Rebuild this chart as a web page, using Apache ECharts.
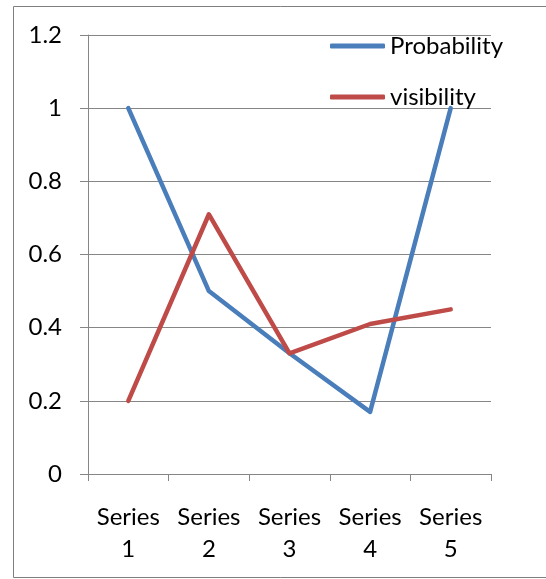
<!DOCTYPE html>
<html>
<head>
<meta charset="utf-8">
<script src="https://cdn.jsdelivr.net/npm/echarts@6/dist/echarts.min.js"></script>
<style>
  html, body { margin: 0; padding: 0; background: #ffffff; }
  #chart { width: 546px; height: 579px; }
</style>
</head>
<body>
<div id="chart"></div>
<script>
// Category labels along the x axis
const categories = ['Series\n1', 'Series\n2', 'Series\n3', 'Series\n4', 'Series\n5'];
// Series values
const probability = [1, 0.5, 0.33, 0.17, 1];
const visibility = [0.2, 0.71, 0.33, 0.41, 0.45];
// Value axis range
const yMin = 0;
const yMax = 1.2;
const yStep = 0.2;

const gridColor = '#868686';
const fontFamily = 'Lato, "Open Sans", sans-serif';

const chart = echarts.init(document.getElementById('chart'), null, { renderer: 'canvas' });

chart.setOption({
  animation: false,
  backgroundColor: '#ffffff',
  graphic: [{
    type: 'rect',
    shape: { x: 13.5, y: 6.5, width: 600, height: 571 },
    style: { fill: 'none', stroke: '#7f7f7f', lineWidth: 1 },
    silent: true,
    z: -1
  }],
  grid: { left: 88, right: 55, top: 35, bottom: 105, containLabel: false },
  legend: {
    orient: 'vertical',
    left: 330,
    top: 33,
    padding: 0,
    itemWidth: 55,
    itemHeight: 5,
    itemGap: 25,
    icon: 'roundRect',
    textStyle: { fontFamily: fontFamily, fontSize: 24, color: '#000000', lineHeight: 26 },
    data: ['Probability', 'visibility']
  },
  xAxis: {
    type: 'category',
    data: categories,
    boundaryGap: true,
    axisLine: { lineStyle: { color: gridColor, width: 1 } },
    axisTick: { show: true, length: 7, alignWithLabel: false, lineStyle: { color: gridColor } },
    axisLabel: {
      interval: 0,
      margin: 27,
      fontFamily: fontFamily,
      fontSize: 24,
      lineHeight: 32,
      color: '#000000'
    },
    splitLine: { show: false }
  },
  yAxis: {
    type: 'value',
    min: yMin,
    max: yMax,
    interval: yStep,
    axisLine: { show: true, lineStyle: { color: gridColor, width: 1 } },
    axisTick: { show: true, length: 8, lineStyle: { color: gridColor } },
    axisLabel: {
      margin: 26,
      fontFamily: fontFamily,
      fontSize: 24,
      color: '#000000',
      formatter: function (v) { return String(Math.round(v * 10) / 10); }
    },
    splitLine: { show: true, lineStyle: { color: gridColor, width: 1 } }
  },
  series: [
    {
      name: 'Probability',
      type: 'line',
      data: probability,
      symbol: 'none',
      color: '#4A7EBB',
      lineStyle: { width: 4.5, color: '#4A7EBB', cap: 'round', join: 'round' }
    },
    {
      name: 'visibility',
      type: 'line',
      data: visibility,
      symbol: 'none',
      color: '#BE4B48',
      lineStyle: { width: 4.5, color: '#BE4B48', cap: 'round', join: 'round' }
    }
  ]
});
</script>
</body>
</html>
